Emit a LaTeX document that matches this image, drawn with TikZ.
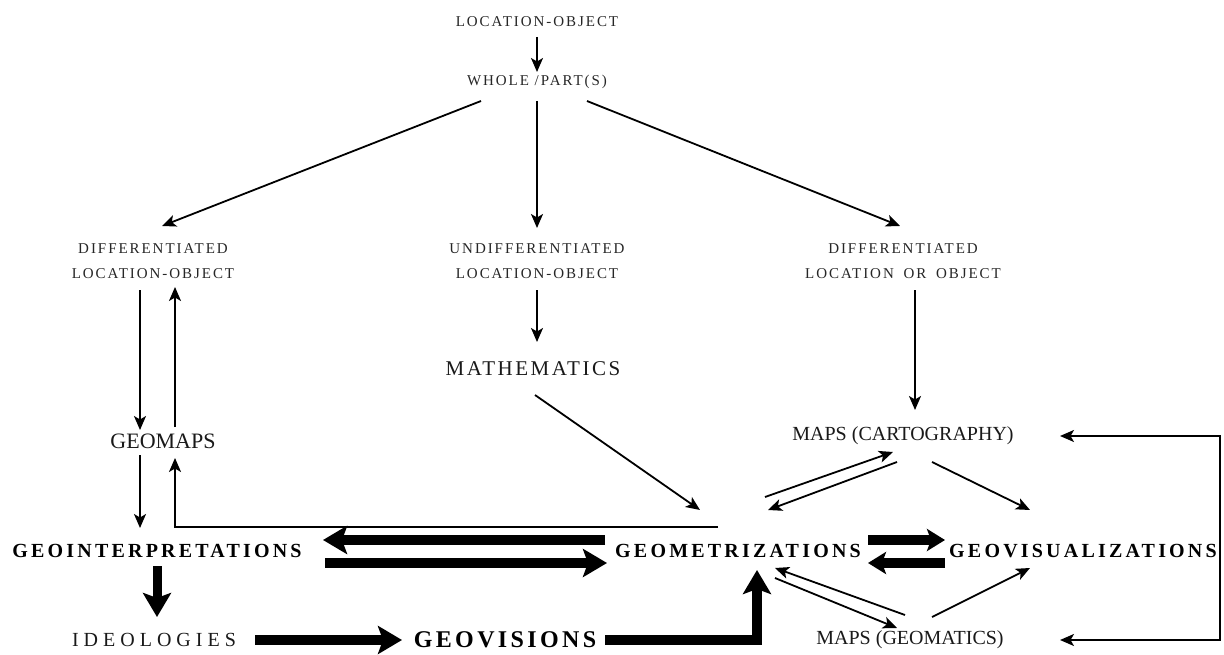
\documentclass[tikz,border=0pt]{standalone}
\usepackage{fontspec}
\setmainfont{Liberation Serif}
\usetikzlibrary{arrows.meta,calc}
\begin{document}
\begin{tikzpicture}[x=1pt,y=-1pt,
  sm/.style={font=\fontsize{15}{25}\selectfont\addfontfeatures{LetterSpace=13}, align=center, inner sep=0pt, text=black!85},
  md/.style={font=\fontsize{20}{24}\selectfont, inner sep=0pt, text=black!90},
  bd/.style={font=\fontsize{20}{24}\selectfont\bfseries\addfontfeatures{LetterSpace=16}, inner sep=0pt},
  thinarr/.style={line width=1.8pt, -{Stealth[length=14pt,width=12pt,inset=3.5pt]}},
  thinboth/.style={line width=1.8pt, {Stealth[length=14pt,width=12pt,inset=3.5pt]}-{Stealth[length=14pt,width=12pt,inset=3.5pt]}},
  thickarr/.style={line width=10pt, line join=miter, -{Stealth[length=24pt,width=28pt,inset=5pt]}},
  midarr/.style={line width=10pt, -{Stealth[length=18pt,width=22pt,inset=4pt]}},
]
\useasboundingbox (0,0) rectangle (1224,655);

% nodes
\node[sm] (lo) at (537,22) {LOCATION-OBJECT};
\node[sm] (wp) at (537,82) {WHOLE /PART(S)};
\node[sm] (dlo) at (153,261) {DIFFERENTIATED\\LOCATION-OBJECT};
\node[sm] (ulo) at (537,261) {UNDIFFERENTIATED\\LOCATION-OBJECT};
\node[sm] (dloo) at (903,261) {DIFFERENTIATED\\LOCATION\hspace{4pt} OR\hspace{4pt} OBJECT};
\node[md, font=\fontsize{21}{24}\selectfont\addfontfeatures{LetterSpace=12}] (math) at (533,369) {MATHEMATICS};
\node[md, font=\fontsize{22}{24}\selectfont] (geomaps) at (163,441) {GEOMAPS};
\node[md] (mc) at (903,436) {MAPS (CARTOGRAPHY)};
\node[bd] (gi) at (157,551) {GEOINTERPRETATIONS};
\node[bd] (gm) at (738,551) {GEOMETRIZATIONS};
\node[bd] (gv) at (1083,551) {GEOVISUALIZATIONS};
\node[md, font=\fontsize{20}{24}\selectfont\addfontfeatures{LetterSpace=25}] (ideo) at (154,640) {IDEOLOGIES};
\node[bd, font=\fontsize{24}{28}\selectfont\bfseries\addfontfeatures{LetterSpace=14}] (gvis) at (505,640) {GEOVISIONS};
\node[md] (mg) at (910,640) {MAPS (GEOMATICS)};

% thin connectors
\draw[thinarr] ($(lo)+(0,15)$) -- ($(wp)+(0,-10)$);
\draw[thinarr] ($(wp)+(-56,19)$) -- ($(dlo)+(9,-35)$);
\draw[thinarr] ($(wp)+(0,19)$) -- ($(ulo)+(0,-33)$);
\draw[thinarr] ($(wp)+(50,19)$) -- ($(dloo)+(-3,-35)$);
\draw[thinarr] ($(ulo)+(0,29)$) -- ($(math)+(4,-27)$);
\draw[thinarr] ($(dlo)+(-13,29)$) -- ($(geomaps)+(-23,-11)$);
\draw[thinarr] ($(geomaps)+(12,-14)$) -- ($(dlo)+(22,26)$);
\draw[thinarr] ($(geomaps)+(-23,14)$) -- ($(gi)+(-17,-23)$);
\draw[thinarr] ($(gm)+(-20,-24)$) -| ($(geomaps)+(12,17)$);
\draw[thinarr] ($(dloo)+(12,29)$) -- ($(mc)+(12,-26)$);
\draw[thinarr] ($(math)+(2,26)$) -- ($(gm)+(-38,-41)$);
\draw[thinarr] ($(gm)+(27,-54)$) -- ($(mc)+(-10,16)$);
\draw[thinarr] ($(mc)+(-6,26)$) -- ($(gm)+(30,-41)$);
\draw[thinarr] ($(mc)+(29,26)$) -- ($(gv)+(-53,-41)$);
\draw[thinarr] ($(gm)+(37,27)$) -- ($(mg)+(-13,-12)$);
\draw[thinarr] ($(mg)+(-5,-25)$) -- ($(gm)+(37,17)$);
\draw[thinarr] ($(mg)+(22,-23)$) -- ($(gv)+(-53,17)$);
\draw[thinboth] ($(mc)+(157,0)$) -- ($(mc)+(317,0)$) |- ($(mg)+(150,0)$);

% thick connectors
\draw[thickarr, line width=9pt] ($(gi)+(0,15)$) -- ($(ideo)+(3,-23)$);
\draw[thickarr] ($(gm)+(-133,-11)$) -- ($(gi)+(166,-11)$);
\draw[thickarr] ($(gi)+(168,12)$) -- ($(gm)+(-131,12)$);
\draw[midarr] ($(gm)+(130,-11)$) -- ($(gv)+(-138,-11)$);
\draw[midarr] ($(gv)+(-138,12)$) -- ($(gm)+(130,12)$);
\draw[thickarr] ($(ideo)+(101,0)$) -- ($(gvis)+(-103,0)$);
\draw[thickarr] ($(gvis)+(100,0)$) -| ($(gm)+(19,19)$);
\end{tikzpicture}
\end{document}
